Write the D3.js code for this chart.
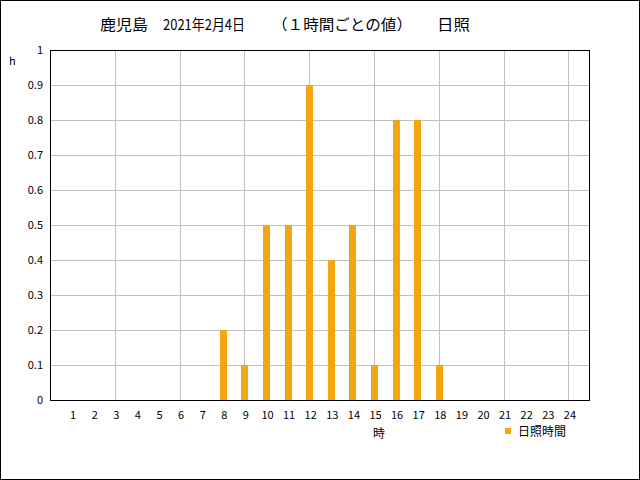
<!DOCTYPE html>
<html><head><meta charset="utf-8">
<script src="https://cdn.jsdelivr.net/npm/d3@7"></script>
<style>body{margin:0;background:#fff}svg{display:block}</style>
</head><body>
<script>
const hours = d3.range(1, 25);
const sunshine = [0,0,0,0,0,0,0,0.2,0.1,0.5,0.5,0.9,0.4,0.5,0.1,0.8,0.8,0.1,0,0,0,0,0,0];
const yTicks = [0,0.1,0.2,0.3,0.4,0.5,0.6,0.7,0.8,0.9,1];
const gridHours = [3,6,9,12,15,18,21,24];
const titleParts = ["鹿児島", "2021年2月4日", "（１時間ごとの値）", "日照"];
const seriesName = "日照時間";

const W = 640, H = 480;
const L = 50, R = 590, T = 50, B = 400;
const font = "'Noto Sans CJK JP', 'DejaVu Sans', sans-serif";
const svg = d3.select("body").append("svg").attr("width", W).attr("height", H);
svg.append("rect").attr("x",0.5).attr("y",0.5).attr("width",W-1).attr("height",H-1)
  .attr("fill","#fff").attr("stroke","#000");

const x = d3.scaleLinear().domain([0,25]).range([L,R]);
const y = d3.scaleLinear().domain([0,1]).range([B,T]);

// grid
svg.append("g").selectAll("line").data(yTicks.slice(1,-1)).join("line")
  .attr("x1",L).attr("x2",R).attr("y1",d=>Math.round(y(d))+0.5).attr("y2",d=>Math.round(y(d))+0.5)
  .attr("stroke","#c0c0c0");
svg.append("g").selectAll("line").data(gridHours).join("line")
  .attr("y1",T).attr("y2",B).attr("x1",d=>Math.round(x(d))+0.5).attr("x2",d=>Math.round(x(d))+0.5)
  .attr("stroke","#c0c0c0");

// bars
svg.append("g").selectAll("rect").data(hours.map((h,i)=>({h,v:sunshine[i]})).filter(d=>d.v>0)).join("rect")
  .attr("x",d=>Math.round(x(d.h))-3).attr("width",7)
  .attr("y",d=>y(d.v)).attr("height",d=>y(0)-y(d.v))
  .attr("fill","#f5a512");

// frame
svg.append("rect").attr("x",L+0.5).attr("y",T+0.5).attr("width",R-L-1).attr("height",B-T)
  .attr("fill","none").attr("stroke","#000");

// y labels
svg.append("g").selectAll("text").data(yTicks).join("text")
  .attr("x",43).attr("y",d=>y(d)).attr("dy","0.35em").attr("text-anchor","end")
  .attr("font-family",font).attr("font-size",11).text(d=>d);
svg.append("text").attr("x",9).attr("y",65).attr("font-family",font).attr("font-size",11).text("h");

// x labels
svg.append("g").selectAll("text").data(hours).join("text")
  .attr("x",d=>x(d)+1.5).attr("y",419).attr("text-anchor","middle")
  .attr("font-family",font).attr("font-size",11).text(d=>d);
svg.append("text").attr("x",379).attr("y",438).attr("text-anchor","middle")
  .attr("font-family",font).attr("font-size",12).text("時");

// legend
svg.append("rect").attr("x",505).attr("y",428).attr("width",6).attr("height",6).attr("fill","#f5a512");
svg.append("text").attr("x",518).attr("y",436).attr("font-family",font).attr("font-size",12).text(seriesName);

// title
const titleX = [100, 163, 272, 437];
svg.append("g").selectAll("text").data(titleParts).join("text")
  .attr("x",(d,i)=>titleX[i]).attr("y",30).attr("font-family",font).attr("font-size",15)
  .attr("textLength",(d,i)=>[48,82,140,33][i]).attr("lengthAdjust","spacingAndGlyphs")
  .text(d=>d);
</script>
</body></html>
